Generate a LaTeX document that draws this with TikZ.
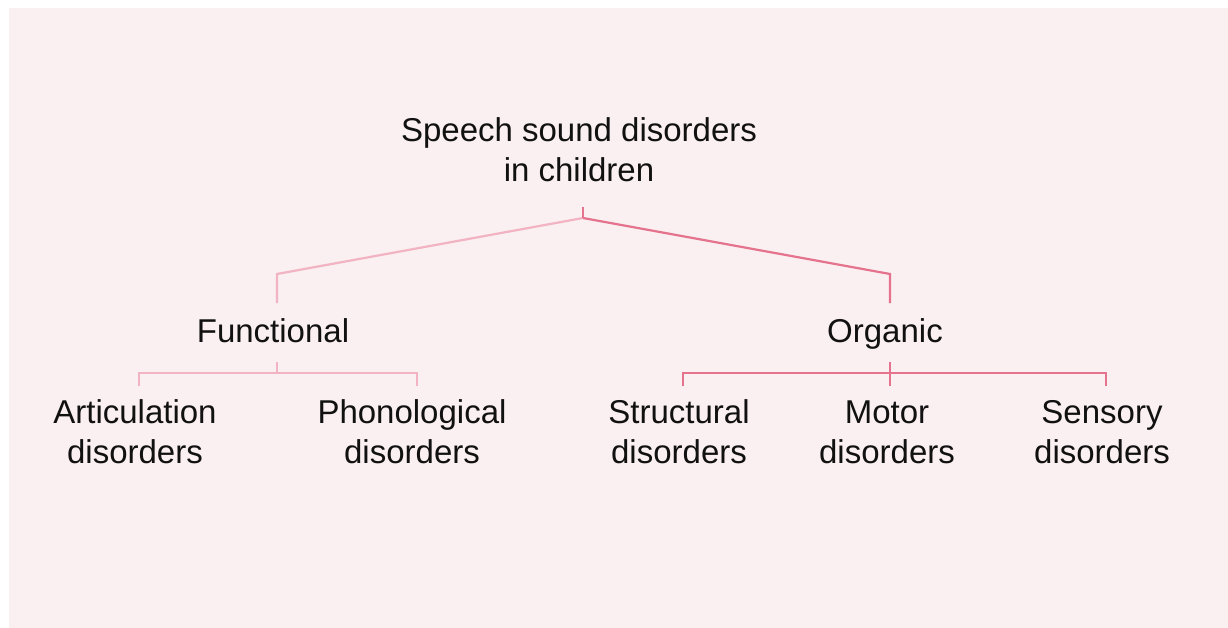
\documentclass[tikz,border=0pt]{standalone}
\usepackage{fontspec}
\setmainfont{Liberation Sans}
\definecolor{pagebg}{HTML}{FAEFF1}
\definecolor{lightbranch}{HTML}{F2B3C2}
\definecolor{darkbranch}{HTML}{E5738D}
\definecolor{ink}{HTML}{111111}
\begin{document}
\begin{tikzpicture}[x=1pt,y=-1pt,
  txt/.style={font=\fontsize{33}{40}\selectfont, align=center, inner sep=0pt, anchor=base, text=ink},
  lt/.style={draw=lightbranch, line width=2.2pt},
  dk/.style={draw=darkbranch, line width=2.2pt}]
\useasboundingbox (0,0) rectangle (1228,628);
\fill[white] (0,0) rectangle (1228,628);
\fill[pagebg] (9,8) rectangle (1228,628);

% labels (base anchor sits on the last line of each label)
\node[txt] (root) at (579,182) {Speech sound disorders\\in children};
\node[txt] (func) at (273,342) {Functional};
\node[txt] (org)  at (885,342) {Organic};
\node[txt] (art)  at (135,463) {Articulation\\disorders};
\node[txt] (pho)  at (412,463) {Phonological\\disorders};
\node[txt] (str)  at (679,463) {Structural\\disorders};
\node[txt] (mot)  at (887,463) {Motor\\disorders};
\node[txt] (sen)  at (1102,463) {Sensory\\disorders};

% junction points
\coordinate (rtop) at (583,207);
\coordinate (rj)   at (583,218);
\coordinate (fk)   at (277,274);
\coordinate (fb)   at (277,303);
\coordinate (ok)   at (890,274);
\coordinate (ob)   at (890,303);
\coordinate (ft)   at (277,362);
\coordinate (fj)   at (277,373);
\coordinate (ot)   at (890,362);
\coordinate (oj)   at (890,373);
\coordinate (artT) at (139,373);
\coordinate (artB) at (139,386);
\coordinate (phoT) at (417,373);
\coordinate (phoB) at (417,386);
\coordinate (strT) at (683,373);
\coordinate (strB) at (683,386);
\coordinate (motB) at (890,386);
\coordinate (senT) at (1106,373);
\coordinate (senB) at (1106,386);

% root to the two groups
\draw[lt] (rj) -- (fk) -- (fb);
\draw[dk] (rj) -- (ok) -- (ob);
\draw[dk] (rtop) -- (rj);

% functional group
\draw[lt] (ft) -- (fj);
\draw[lt] (artB) -- (artT) -- (phoT) -- (phoB);

% organic group
\draw[dk] (ot) -- (motB);
\draw[dk] (strB) -- (strT) -- (senT) -- (senB);
\end{tikzpicture}
\end{document}
